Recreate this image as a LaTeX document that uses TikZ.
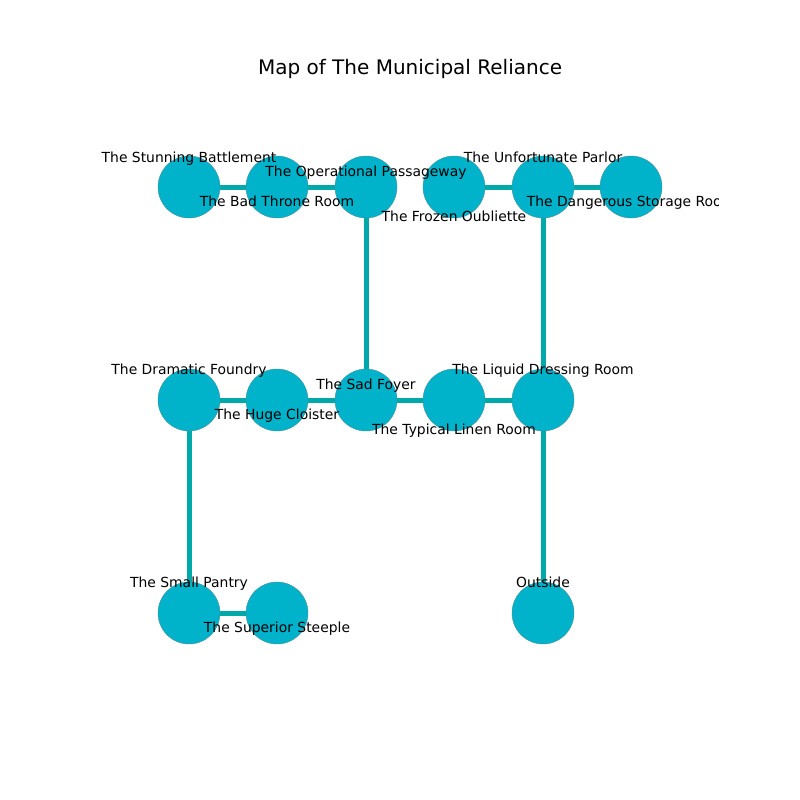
\documentclass[tikz,border=0pt]{standalone}
\usepackage{fontspec}
\setmainfont{DejaVu Sans}
\definecolor{roomfill}{HTML}{00B2CA}
\definecolor{roomedge}{HTML}{00A9A9}
\definecolor{roomline}{HTML}{4A8F9A}
\tikzset{
  room/.style={circle, fill=roomfill, draw=roomline, line width=0.4bp, minimum size=62bp, inner sep=0pt},
  link/.style={draw=roomedge, line width=5bp},
  lbl/.style={font=\fontsize{13.9bp}{16bp}\selectfont, inner sep=0pt, anchor=base},
}
\begin{document}
\begin{tikzpicture}[x=1bp,y=-1bp]
\useasboundingbox (0,0) rectangle (800,800);
\node[font=\fontsize{20bp}{24bp}\selectfont, anchor=base, inner sep=0pt] (title) at (410,74.5) {Map of The Municipal Reliance};
% room positions
\coordinate (pA) at (189,187);
\coordinate (pB) at (277,187);
\coordinate (pC) at (366,187);
\coordinate (pD) at (454,187);
\coordinate (pE) at (543,187);
\coordinate (pF) at (631,187);
\coordinate (pG) at (189,400);
\coordinate (pH) at (277,400);
\coordinate (pI) at (366,400);
\coordinate (pJ) at (454,400);
\coordinate (pK) at (543,400);
\coordinate (pL) at (189,613);
\coordinate (pM) at (277,613);
\coordinate (pN) at (543,613);
% links
\draw[link] (pA) -- (pB);
\draw[link] (pB) -- (pC);
\draw[link] (pD) -- (pE);
\draw[link] (pE) -- (pF);
\draw[link] (pC) -- (pI);
\draw[link] (pE) -- (pK);
\draw[link] (pG) -- (pH);
\draw[link] (pH) -- (pI);
\draw[link] (pI) -- (pJ);
\draw[link] (pJ) -- (pK);
\draw[link] (pG) -- (pL);
\draw[link] (pK) -- (pN);
\draw[link] (pL) -- (pM);
% rooms
\foreach \p in {A,B,C,D,E,F,G,H,I,J,K,L,M,N}{
  \node[room] (r\p) at (p\p) {};
}
% labels
\begin{scope}
\clip (0,0) rectangle (718,800);
\node[lbl] (tA) at (189,162) {The Stunning Battlement};
\node[lbl] (tB) at (277,206) {The Bad Throne Room};
\node[lbl] (tC) at (366,176) {The Operational Passageway};
\node[lbl] (tD) at (454,221) {The Frozen Oubliette};
\node[lbl] (tE) at (543,162) {The Unfortunate Parlor};
\node[lbl] (tF) at (631,206) {The Dangerous Storage Room};
\node[lbl] (tG) at (189,374) {The Dramatic Foundry};
\node[lbl] (tH) at (277,419) {The Huge Cloister};
\node[lbl] (tI) at (366,389) {The Sad Foyer};
\node[lbl] (tK) at (543,374) {The Liquid Dressing Room};
\node[lbl] (tJ) at (454,434) {The Typical Linen Room};
\node[lbl] (tL) at (189,587) {The Small Pantry};
\node[lbl] (tM) at (277,632) {The Superior Steeple};
\node[lbl] (tN) at (543,587) {Outside};
\end{scope}
\end{tikzpicture}
\end{document}
